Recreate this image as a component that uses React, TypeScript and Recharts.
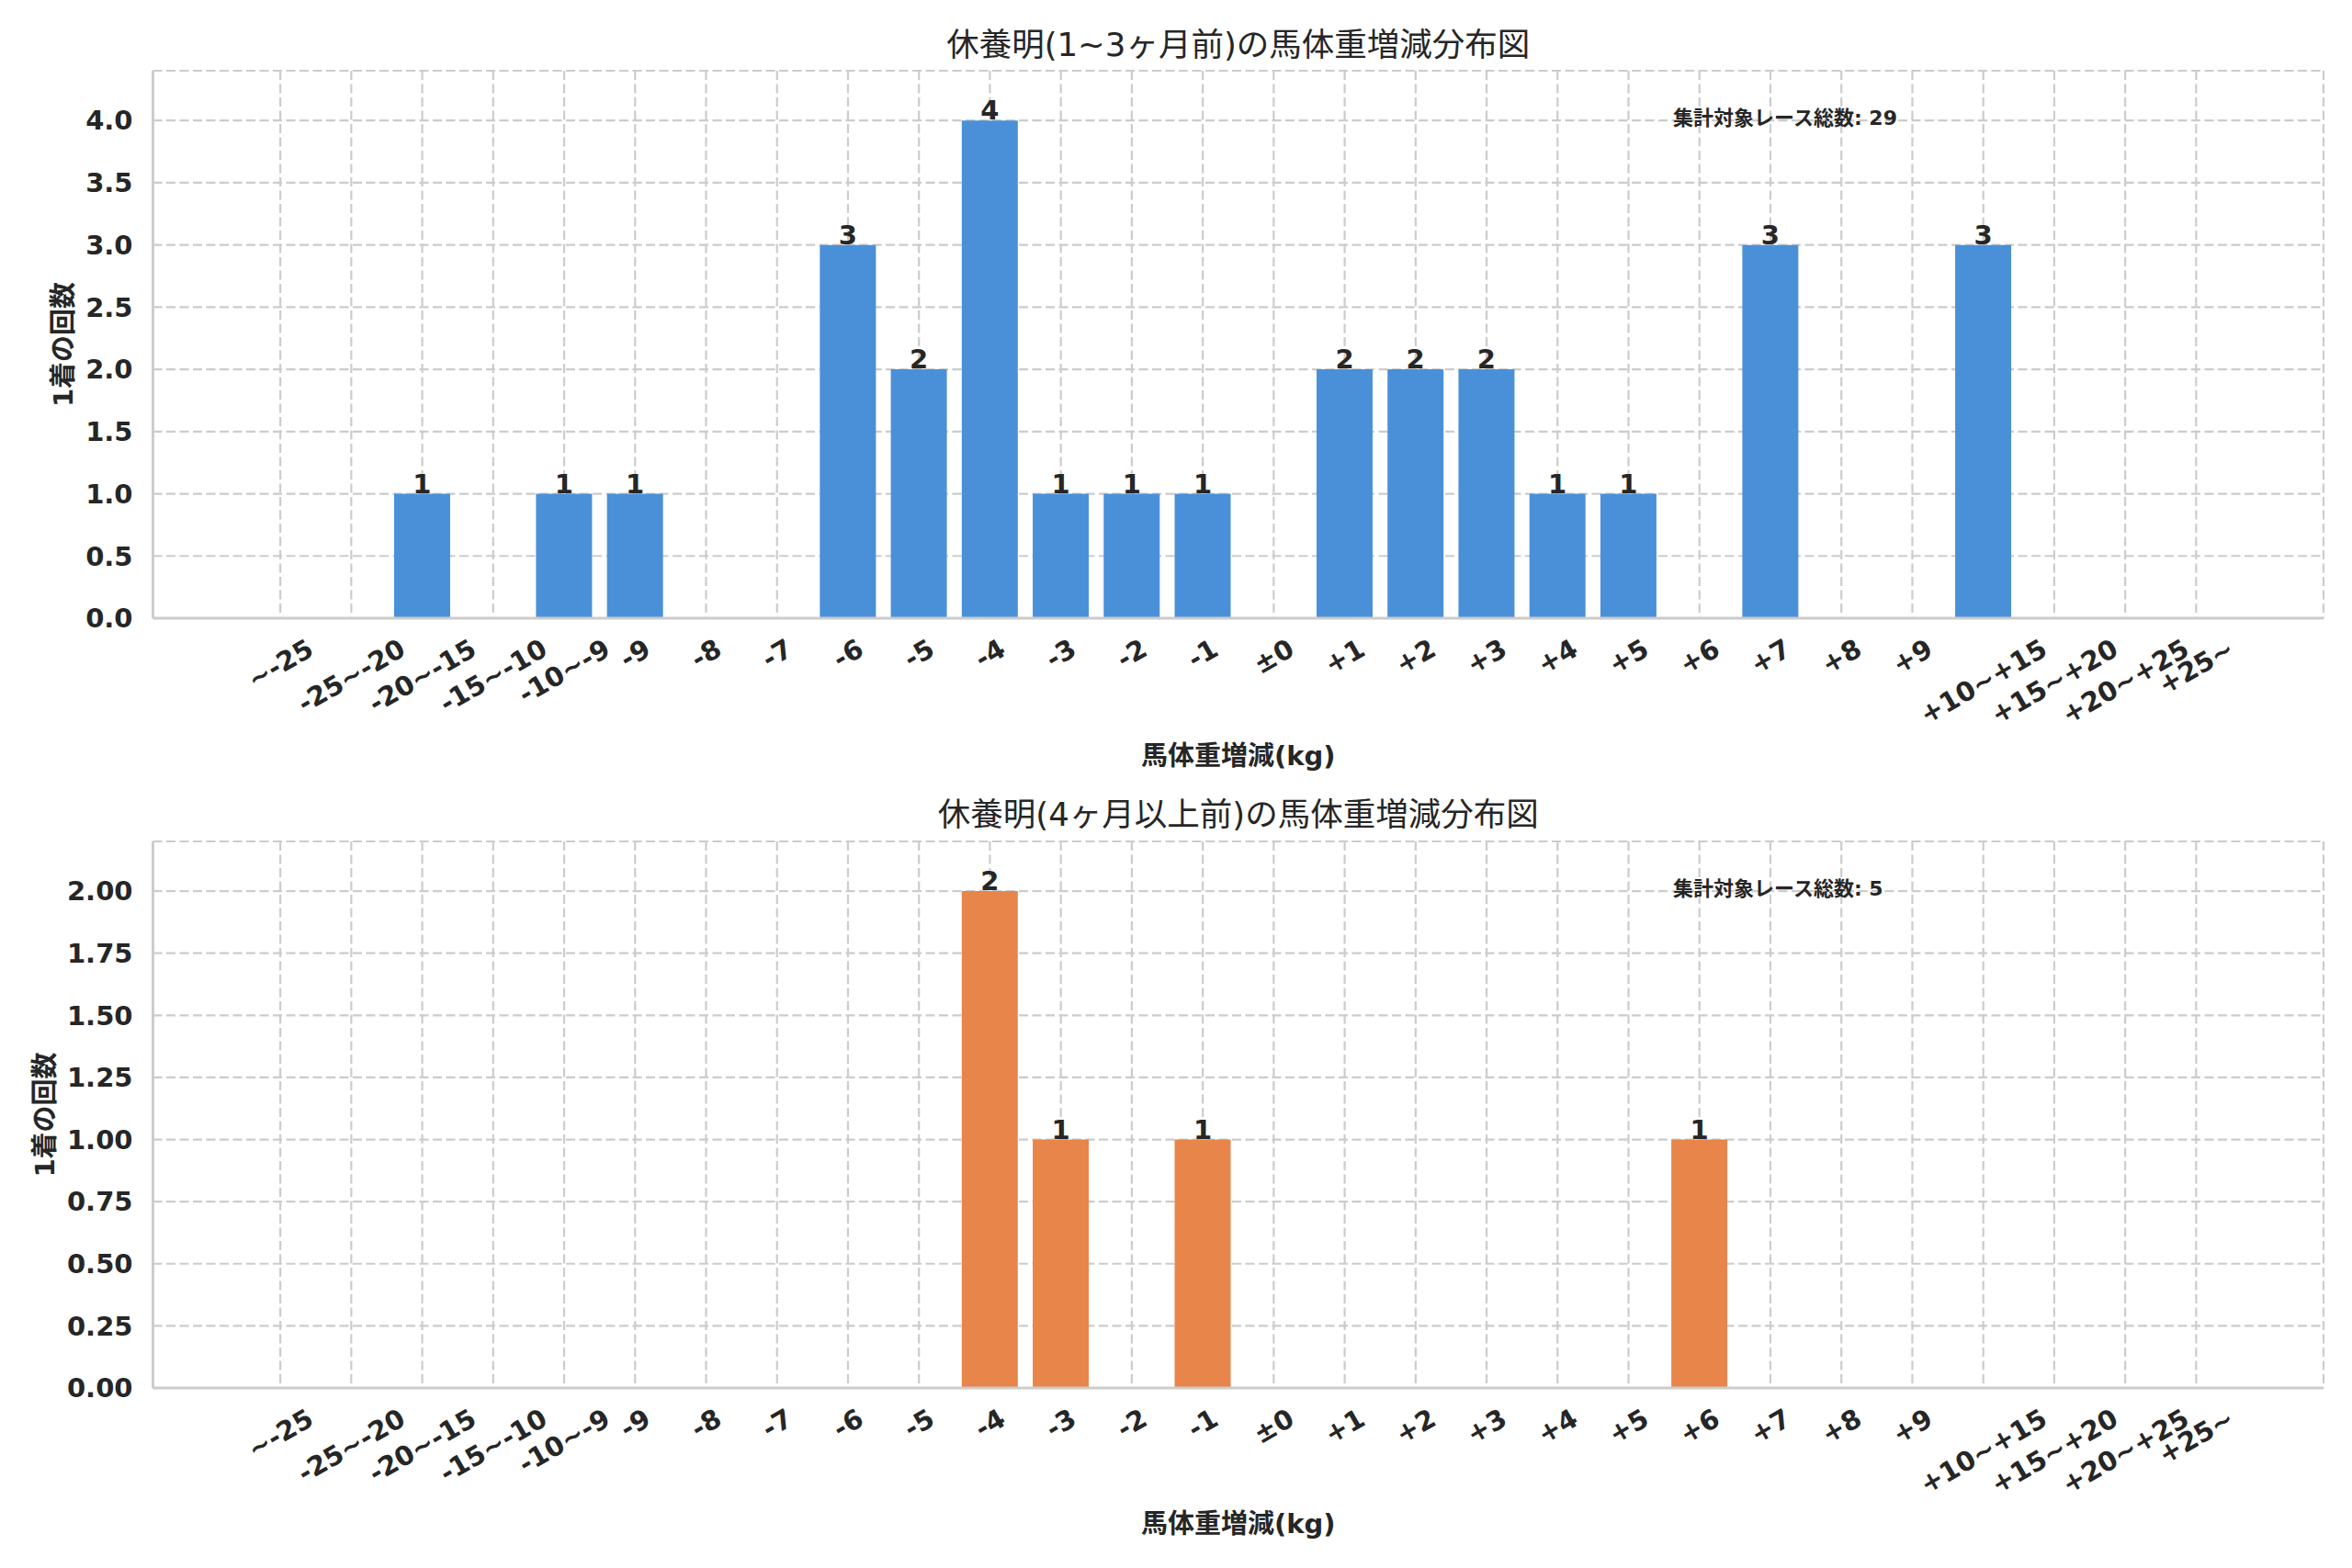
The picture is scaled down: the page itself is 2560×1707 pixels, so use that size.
import React from "react";
import {
  BarChart,
  Bar,
  XAxis,
  YAxis,
  CartesianGrid,
  LabelList,
} from "recharts";

// ---- data ----
const CATEGORIES = [
  "~-25", "-25~-20", "-20~-15", "-15~-10", "-10~-9", "-9", "-8", "-7", "-6", "-5",
  "-4", "-3", "-2", "-1", "±0", "+1", "+2", "+3", "+4", "+5",
  "+6", "+7", "+8", "+9", "+10~+15", "+15~+20", "+20~+25", "+25~",
];
const SHORT_COUNTS = [
  0, 0, 1, 0, 1, 1, 0, 0, 3, 2,
  4, 1, 1, 1, 0, 2, 2, 2, 1, 1,
  0, 3, 0, 0, 3, 0, 0, 0,
];
const LONG_COUNTS = [
  0, 0, 0, 0, 0, 0, 0, 0, 0, 0,
  2, 1, 0, 1, 0, 0, 0, 0, 0, 0,
  1, 0, 0, 0, 0, 0, 0, 0,
];
const SHORT_TICKS = [0, 0.5, 1.0, 1.5, 2.0, 2.5, 3.0, 3.5, 4.0];
const LONG_TICKS = [0, 0.25, 0.5, 0.75, 1.0, 1.25, 1.5, 1.75, 2.0];

const TITLE_SHORT = "休養明(1~3ヶ月前)の馬体重増減分布図";
const TITLE_LONG = "休養明(4ヶ月以上前)の馬体重増減分布図";
const X_LABEL = "馬体重増減(kg)";
const Y_LABEL = "1着の回数";
const TOTAL_LABEL = "集計対象レース総数";

const FONT = "'DejaVu Sans', 'Noto Sans CJK JP', sans-serif";
const TEXT = "#262626";
const GRID = "#cccccc";
const FS = 29;

const CHAR_W: Record<string, number> = {
  "-": 0.415, "~": 0.838, "+": 0.838, "±": 0.838,
};
const textWidth = (s: string, fs: number) =>
  s.split("").reduce((a, c) => a + (CHAR_W[c] ?? 0.696), 0) * fs;

const XTick = (props: any) => {
  const { x, y, payload } = props;
  const fs = FS;
  const label = String(payload.value);
  const w = textWidth(label, fs);
  const h = w * 0.5 + 1.164 * fs * 0.866;
  const cy = y + 16 + h / 2;
  return (
    <text
      x={x}
      y={cy}
      textAnchor="middle"
      dominantBaseline="central"
      transform={`rotate(-30 ${x} ${cy})`}
      fontSize={fs}
      fontWeight="bold"
      fill={TEXT}
      fontFamily={FONT}
    >
      {label}
    </text>
  );
};

const valueLabel = (props: any) => {
  const { x, y, width, value } = props;
  if (!value) return null;
  return (
    <text
      x={Number(x) + Number(width) / 2}
      y={Number(y) - 1}
      textAnchor="middle"
      fontSize={FS}
      fontWeight="bold"
      fill={TEXT}
      fontFamily={FONT}
    >
      {value}
    </text>
  );
};

type PanelProps = {
  counts: number[];
  color: string;
  domainMax: number;
  ticks: number[];
  digits: number;
  height: number;
  marginTop: number;
  xAxisHeight: number;
  xLabelY: number;
  yLabelX: number;
};

const Panel = ({
  counts, color, domainMax, ticks, digits, height, marginTop, xAxisHeight, xLabelY, yLabelX,
}: PanelProps) => {
  const data = CATEGORIES.map((c, i) => ({ cat: c, count: counts[i] }));
  return (
    <BarChart
      width={2544}
      height={height}
      data={data}
      margin={{ top: marginTop, right: 23, left: 0, bottom: 0 }}
      barSize={61}
      style={{ fontFamily: FONT }}
    >
      <CartesianGrid stroke={GRID} strokeDasharray="10 4.5" strokeWidth={2.2} />
      <XAxis
        dataKey="cat"
        type="category"
        interval={0}
        padding={{ left: 100, right: 100 }}
        height={xAxisHeight}
        tickLine={false}
        tickSize={0}
        tickMargin={0}
        axisLine={{ stroke: GRID, strokeWidth: 3 }}
        tick={(p: any) => <XTick {...p} />}
        label={(p: any) => {
          const vb = p.viewBox || {};
          return (
            <text
              x={vb.x + vb.width / 2}
              y={vb.y + xLabelY}
              textAnchor="middle"
              dominantBaseline="central"
              fontSize={FS}
              fontWeight="bold"
              fill={TEXT}
              fontFamily={FONT}
            >
              {X_LABEL}
            </text>
          );
        }}
      />
      <XAxis
        xAxisId="top"
        dataKey="cat"
        orientation="top"
        height={0}
        tick={false}
        tickLine={false}
        axisLine={{ stroke: GRID, strokeWidth: 3 }}
      />
      <YAxis
        type="number"
        domain={[0, domainMax]}
        ticks={ticks}
        allowDataOverflow
        width={158.5}
        tickLine={false}
        tickSize={0}
        tickMargin={22}
        axisLine={{ stroke: GRID, strokeWidth: 3 }}
        tickFormatter={(v: number) => v.toFixed(digits)}
        tick={{ fontSize: FS, fontWeight: "bold", fill: TEXT, fontFamily: FONT }}
        label={(p: any) => {
          const vb = p.viewBox || {};
          const cy = vb.y + vb.height / 2;
          return (
            <text
              x={yLabelX}
              y={cy}
              textAnchor="middle"
              dominantBaseline="central"
              transform={`rotate(-90 ${yLabelX} ${cy})`}
              fontSize={FS}
              fontWeight="bold"
              fill={TEXT}
              fontFamily={FONT}
            >
              {Y_LABEL}
            </text>
          );
        }}
      />
      <YAxis
        yAxisId="right"
        orientation="right"
        width={0}
        domain={[0, domainMax]}
        tick={false}
        tickLine={false}
        axisLine={{ stroke: GRID, strokeWidth: 3 }}
      />
      <Bar dataKey="count" fill={color} isAnimationActive={false}>
        <LabelList dataKey="count" content={valueLabel} />
      </Bar>
    </BarChart>
  );
};

const titleStyle = (top: number): React.CSSProperties => ({
  position: "absolute",
  left: 158.5,
  width: 2362.5,
  top: top - 25,
  height: 50,
  lineHeight: "50px",
  textAlign: "center",
  fontSize: 35.5,
  color: TEXT,
  fontFamily: FONT,
  whiteSpace: "nowrap",
});

const annotStyle = (top: number): React.CSSProperties => ({
  position: "absolute",
  left: 1813,
  top: top - 15,
  height: 30,
  lineHeight: "30px",
  fontSize: 22,
  fontWeight: "bold",
  color: TEXT,
  fontFamily: FONT,
  whiteSpace: "nowrap",
});

const sum = (a: number[]) => a.reduce((s, v) => s + v, 0);

export default function App() {
  return (
    <div style={{ position: "relative", width: 2544, height: 1699, background: "#fff", fontFamily: FONT }}>
      <div style={{ position: "absolute", left: 0, top: 0 }}>
        <Panel
          counts={SHORT_COUNTS}
          color="#4A90D9"
          domainMax={4.4}
          ticks={SHORT_TICKS}
          digits={1}
          height={850}
          marginTop={69}
          xAxisHeight={185}
          xLabelY={150}
          yLabelX={61}
        />
      </div>
      <div style={{ position: "absolute", left: 0, top: 850 }}>
        <Panel
          counts={LONG_COUNTS}
          color="#E8854A"
          domainMax={2.2}
          ticks={LONG_TICKS}
          digits={2}
          height={849}
          marginTop={58}
          xAxisHeight={196}
          xLabelY={148}
          yLabelX={41}
        />
      </div>
      <div style={titleStyle(41)}>{TITLE_SHORT}</div>
      <div style={titleStyle(879)}>{TITLE_LONG}</div>
      <div style={annotStyle(121)}>{`${TOTAL_LABEL}: ${sum(SHORT_COUNTS)}`}</div>
      <div style={annotStyle(960)}>{`${TOTAL_LABEL}: ${sum(LONG_COUNTS)}`}</div>
    </div>
  );
}
